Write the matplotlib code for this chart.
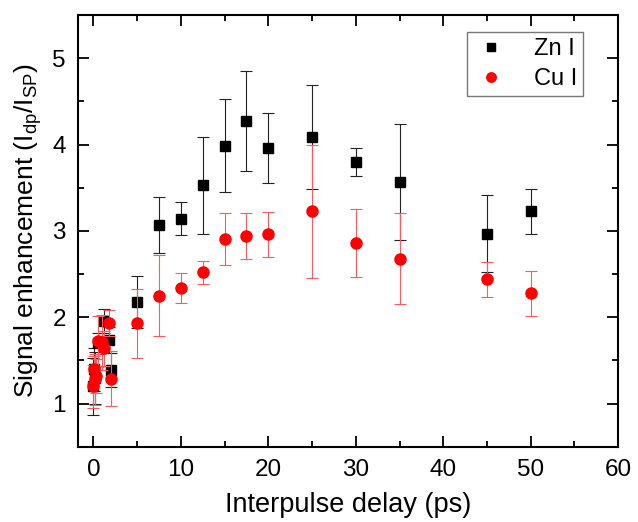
import matplotlib
matplotlib.use("Agg")
import matplotlib.pyplot as plt
from matplotlib.ticker import MultipleLocator

plt.rcParams['font.family'] = ['Liberation Sans', 'DejaVu Sans']

zn_x = [0, 0.1, 0.2, 0.5, 1.2, 1.8, 2.0, 5, 7.5, 10, 12.5, 15, 17.5, 20, 25, 30, 35, 45, 50]
zn_y = [1.2, 1.4, 1.3, 1.7, 1.96, 1.74, 1.39, 2.18, 3.07, 3.14, 3.53, 3.99, 4.27, 3.96, 4.09, 3.80, 3.57, 2.97, 3.23]
zn_err = [0.33, 0.25, 0.3, 0.12, 0.14, 0.15, 0.2, 0.30, 0.32, 0.19, 0.56, 0.54, 0.58, 0.41, 0.60, 0.16, 0.67, 0.45, 0.26]

cu_x = [0, 0.1, 0.2, 0.33, 0.5, 1.0, 1.2, 1.8, 2.0, 5, 7.5, 10, 12.5, 15, 17.5, 20, 25, 30, 35, 45, 50]
cu_y = [1.2, 1.4, 1.28, 1.32, 1.72, 1.71, 1.64, 1.93, 1.29, 1.93, 2.25, 2.34, 2.52, 2.91, 2.94, 2.96, 3.23, 2.86, 2.68, 2.44, 2.28]
cu_err = [0.25, 0.15, 0.3, 0.2, 0.3, 0.32, 0.2, 0.15, 0.32, 0.40, 0.47, 0.17, 0.13, 0.30, 0.27, 0.26, 0.77, 0.39, 0.53, 0.20, 0.26]

fig = plt.figure(figsize=(6.38, 5.22), dpi=100)
ax = fig.add_axes([0.123, 0.144, 0.846, 0.827])

ax.errorbar(zn_x, zn_y, yerr=zn_err, fmt='s', color='black', ms=7.3,
            ecolor='#222222', elinewidth=0.8, capsize=4, capthick=0.8,
            label='Zn I', zorder=2)
ax.errorbar(cu_x, cu_y, yerr=cu_err, fmt='o', color='red', ms=8,
            ecolor='#ff5a5a', elinewidth=0.8, capsize=4, capthick=0.8,
            label='Cu I', zorder=3)

ax.set_xlim(-1.7, 60)
ax.set_ylim(0.5, 5.5)
ax.xaxis.set_major_locator(MultipleLocator(10))
ax.xaxis.set_minor_locator(MultipleLocator(5))
ax.yaxis.set_major_locator(MultipleLocator(1))
ax.yaxis.set_minor_locator(MultipleLocator(0.5))
ax.tick_params(which='both', direction='in', top=True, right=True, width=1.3, labelsize=17.5)
ax.tick_params(which='major', length=8, pad=9)
ax.tick_params(which='minor', length=4.5)
for s in ax.spines.values():
    s.set_linewidth(1.5)

ax.set_xlabel('Interpulse delay (ps)', fontsize=19.5, labelpad=8)
ax.set_ylabel(r'Signal enhancement (I$_{\mathregular{dp}}$/I$_{\mathregular{SP}}$)', fontsize=19, labelpad=6)

h, l = ax.get_legend_handles_labels()
h = [hh[0] for hh in h]
leg = ax.legend(h, l, loc='upper right', bbox_to_anchor=(0.935, 0.961), borderaxespad=0,
                fontsize=17, frameon=True, fancybox=False,
                edgecolor='#555555', handletextpad=1.0, handlelength=1.6,
                markerscale=0.85, borderpad=0.25, labelspacing=0.35)
leg.get_frame().set_linewidth(1.0)

fig.savefig('out.png', dpi=100)
